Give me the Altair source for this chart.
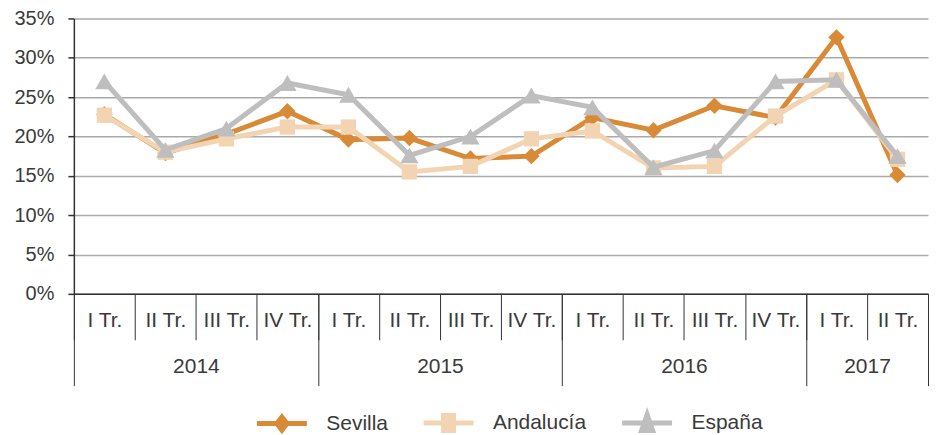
import json
import altair as alt
import pandas as pd

# ---------------- data ----------------
years = ["2014", "2014", "2014", "2014", "2015", "2015", "2015", "2015",
         "2016", "2016", "2016", "2016", "2017", "2017"]
quarters = ["I Tr.", "II Tr.", "III Tr.", "IV Tr.", "I Tr.", "II Tr.", "III Tr.", "IV Tr.",
            "I Tr.", "II Tr.", "III Tr.", "IV Tr.", "I Tr.", "II Tr."]
series_names = ["Sevilla", "Andalucía", "España"]
sevilla = [22.8, 17.9, 20.3, 23.2, 19.6, 19.8, 17.2, 17.5, 22.4, 20.8, 23.9, 22.4, 32.6, 15.1]
andalucia = [22.7, 18.0, 19.7, 21.2, 21.2, 15.5, 16.2, 19.7, 20.7, 16.0, 16.2, 22.6, 27.2, 17.1]
espana = [27.0, 18.3, 21.0, 26.8, 25.3, 17.6, 20.0, 25.2, 23.7, 16.1, 18.2, 27.0, 27.2, 17.5]
y_ticks = [0, 5, 10, 15, 20, 25, 30, 35]

# ---------------- style ----------------
colors = ["#D98A37", "#F2D4B3", "#BEBEBE"]
marker_shapes = ["diamond", "square", "triangle-up"]
marker_sizes = [270, 235, 340]
legend_paths = [
    "M-1,0L1,0M-0.2,0L0,-0.26L0.2,0L0,0.26Z",
    "M-1,0L1,0M-0.2,-0.3L0.2,-0.3L0.2,0.3L-0.2,0.3Z",
    "M-1,0L1,0M0,-0.34L0.22,0.3L-0.22,0.3Z",
]
FONT = "Liberation Sans"
TXT = "#3a3a3a"
DARK = "#333333"

# ---------------- tables ----------------
values_by_series = {"Sevilla": sevilla, "Andalucía": andalucia, "España": espana}
n = len(quarters)
rows = []
for s in series_names:
    for i in range(n):
        rows.append({"series": s, "pos": i + 0.5, "year": years[i],
                     "quarter": quarters[i], "value": values_by_series[s][i] / 100})
df = pd.DataFrame(rows)
qdf = pd.DataFrame({"pos": [i + 0.5 for i in range(n)], "year": years, "quarter": quarters})

year_bounds = [0] + [i for i in range(1, n) if years[i] != years[i - 1]] + [n]
year_centers = [(a + b) / 2 for a, b in zip(year_bounds[:-1], year_bounds[1:])]
year_names = [years[a] for a in year_bounds[:-1]]

quarter_expr = json.dumps(quarters) + "[floor(datum.value)]"
year_expr = json.dumps(year_names) + "[indexof(" + json.dumps(year_centers) + ", datum.value)]"

xscale = alt.Scale(domain=[0, n], nice=False, zero=False)

y_axis = alt.Axis(values=[v / 100 for v in y_ticks], format=".0%", grid=True,
                  gridColor="#A9A9A9", gridWidth=1.5, domainColor=DARK, domainWidth=1.5,
                  tickColor=DARK, tickSize=6, tickWidth=1.5, labelPadding=14,
                  labelFontSize=20, labelColor=TXT, labelFont=FONT, title=None)
y_enc = alt.Y("value:Q", scale=alt.Scale(domain=[0, 0.35], nice=False), axis=y_axis)

tick_axis = alt.Axis(orient="bottom", values=list(range(n + 1)), tickSize=46, tickColor=DARK,
                     tickWidth=1, domainColor=DARK, domainWidth=1.5, labels=False,
                     grid=False, title=None)

layers = []
for k, s in enumerate(series_names):
    base = alt.Chart(df).transform_filter(alt.datum.series == s)
    line = base.mark_line(strokeWidth=5, color=colors[k], opacity=1).encode(
        x=alt.X("pos:Q", scale=xscale, axis=tick_axis if k == 0 else None),
        y=y_enc,
    )
    pts = base.mark_point(shape=marker_shapes[k], size=marker_sizes[k], filled=True,
                          color=colors[k], opacity=1).encode(
        x=alt.X("pos:Q", scale=xscale, axis=None),
        y=y_enc,
    )
    layers += [line, pts]

# legend-only layer (no drawn marks; legend built from explicit scale domains)
legend = alt.Legend(title=None, orient="none", legendX=181, legendY=378,
                    direction="horizontal",
                    symbolSize=2500, symbolStrokeWidth=5, labelFontSize=21,
                    labelFont=FONT, labelColor=TXT, labelOffset=17, columnPadding=25)
legend_layer = alt.Chart(df).transform_filter("false").mark_point(strokeWidth=5, opacity=1).encode(
    fill=alt.Fill("series:N", scale=alt.Scale(domain=series_names, range=colors), legend=legend),
    stroke=alt.Stroke("series:N", scale=alt.Scale(domain=series_names, range=colors), legend=legend),
    shape=alt.Shape("series:N", scale=alt.Scale(domain=series_names, range=legend_paths), legend=legend),
)
layers.append(legend_layer)

def axis_layer(axis):
    return alt.Chart(qdf).mark_point(opacity=0).encode(x=alt.X("pos:Q", scale=xscale, axis=axis))

year_tick_axis = alt.Axis(orient="bottom", values=[float(v) for v in year_bounds], tickSize=92,
                          tickColor=DARK, tickWidth=1, domain=False, labels=False, grid=False,
                          title=None)
quarter_label_axis = alt.Axis(orient="bottom", values=[float(v) for v in qdf["pos"]], ticks=False,
                              tickSize=0, domain=False, grid=False, title=None,
                              labelExpr=quarter_expr, labelPadding=27, labelBaseline="middle",
                              labelFontSize=21, labelFont=FONT, labelColor=TXT,
                              labelFlush=False, labelOverlap=False)
year_label_axis = alt.Axis(orient="bottom", values=[float(v) for v in year_centers], ticks=False,
                           tickSize=0, domain=False, grid=False, title=None,
                           labelExpr=year_expr, labelPadding=73, labelBaseline="middle",
                           labelFontSize=21, labelFont=FONT, labelColor=TXT,
                           labelFlush=False, labelOverlap=False)

layers += [axis_layer(year_tick_axis), axis_layer(quarter_label_axis), axis_layer(year_label_axis)]

chart = (
    alt.layer(*layers)
    .resolve_scale(x="independent")
    .properties(width=856, height=276,
                padding={"left": 5, "top": 0, "right": 0, "bottom": 0},
                background="white")
    .configure_view(stroke=None)
)

chart.save("out.html", embed_options={"renderer": "svg", "actions": False})
